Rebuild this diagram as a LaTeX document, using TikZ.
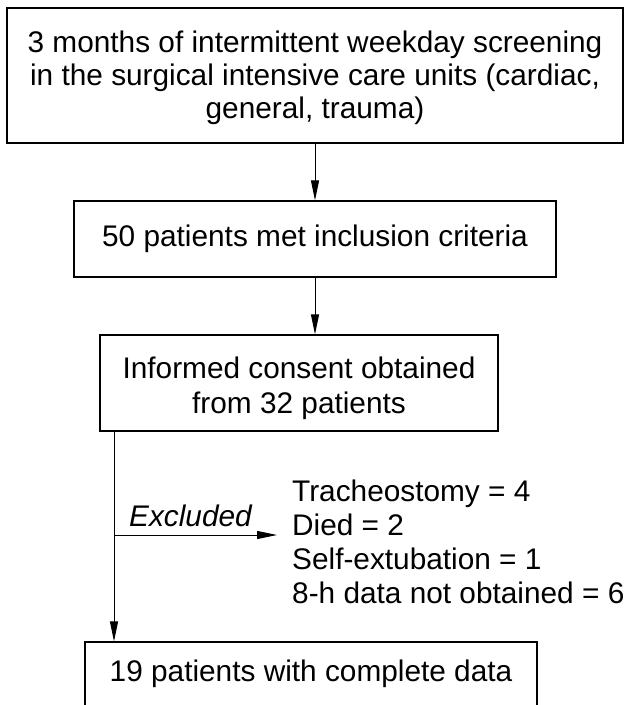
\documentclass[tikz,border=0pt]{standalone}
\usepackage{fontspec}
\setmainfont{Liberation Sans}
\usetikzlibrary{arrows.meta}
\begin{document}
\begin{tikzpicture}[x=1pt,y=-1pt,
  box/.style={draw, line width=1.2pt, inner sep=0pt, align=center,
    font=\fontsize{29.8}{33}\selectfont},
  flow/.style={line width=1pt, -{Triangle[length=20pt,width=8pt]}},
  txt/.style={inner sep=0pt, font=\fontsize{29.8}{34.3}\selectfont},
  ]
\useasboundingbox (0,0) rectangle (625,705);
\node[box, minimum width=616pt, minimum height=135pt] (screen) at (315,75.5)
  {\rule{0pt}{25.3pt}3 months of intermittent weekday screening\\in the surgical intensive care units (cardiac,\\general, trauma)};
\node[box, minimum width=482pt, minimum height=76pt] (incl) at (315,239)
  {50 patients met inclusion criteria};
\node[box, minimum width=398pt, minimum height=96pt, font=\fontsize{29.8}{35}\selectfont] (consent) at (299,383)
  {\rule{0pt}{31.7pt}Informed consent obtained\\from 32 patients};
\node[box, minimum width=452pt, minimum height=64pt] (final) at (311,674)
  {19 patients with complete data};
\node[txt, align=left, anchor=west] (reasons) at (292,541.8)
  {Tracheostomy = 4\\Died = 2\\Self-extubation = 1\\8-h data not obtained = 6};
\node[txt, anchor=base, font=\fontsize{29.8}{34}\selectfont\itshape] (exlabel) at (190.5,526) {Excluded};
\coordinate (split) at (114,535);
\coordinate (exend) at (277,535);
\draw[flow] (screen) -- (incl);
\draw[flow] (incl.south) -- (incl.south |- consent.north);
\draw[flow] (split |- consent.south) -- (split |- final.north);
\draw[flow] (split) -- (exend);
\end{tikzpicture}
\end{document}
